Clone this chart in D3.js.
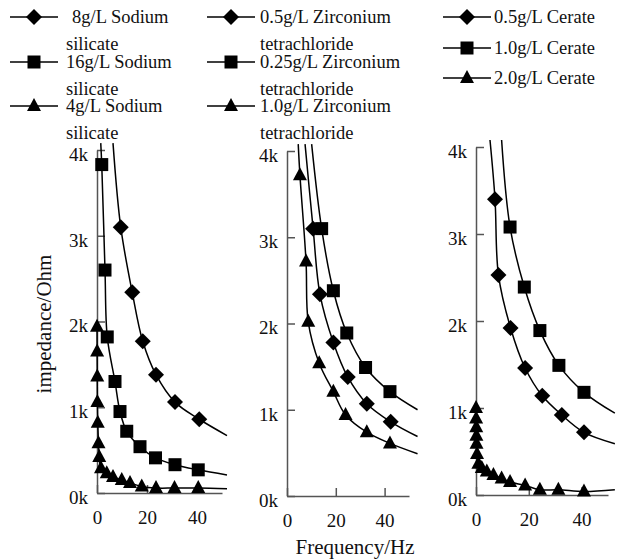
<!DOCTYPE html>
<html>
<head>
<meta charset="utf-8">
<script src="https://cdn.jsdelivr.net/npm/d3@7"></script>
<style>
  body { margin: 0; background: #fff; }
  svg text { font-family: "Liberation Serif", "Times New Roman", Times, "DejaVu Serif", serif !important; }
  .axis path, .axis line { stroke: #555; stroke-width: 1.5; }
  .axis text { font-size: 19px; fill: #111; }
  .curve { fill: none; stroke: #000; stroke-width: 1.5; }
  .legend text { font-size: 18.5px; fill: #111; }
</style>
</head>
<body>
<svg id="chart" width="620" height="560"></svg>
<script>
// frequency in Hz, impedance in Ohm
// series order in every panel: diamond, square, triangle

const sodiumLabels = [['8g/L Sodium', 'silicate'], ['16g/L Sodium', 'silicate'], ['4g/L Sodium', 'silicate']];
const sodiumFreq = [
  [9.5, 14.1, 18.3, 23.6, 31.2, 40.9],
  [1.9, 3.2, 4.1, 7.2, 9.2, 11.9, 17.2, 23.4, 31.2, 40.5],
  [0, 0.05, 0.1, 0.15, 0.3, 0.6, 0.9, 1.6, 3.9, 6.4, 9.9, 13.2, 17.9, 23.6, 31, 40.5]
];
const sodiumImp = [
  [3100, 2340, 1770, 1380, 1060, 860],
  [3830, 2600, 1820, 1300, 950, 720, 540, 410, 330, 270],
  [1940, 1650, 1360, 1060, 820, 580, 420, 290, 230, 187, 152, 117, 76, 58, 58, 58]
];
// where each fitted curve leaves the top of the plot / ends on the right
const sodiumStart = [[6.4, 4080], [1.5, 4080], null];
const sodiumEnd = [[52, 670], [52, 210], [52, 50]];

const zirconiumLabels = [['0.5g/L Zirconium', 'tetrachloride'], ['0.25g/L Zirconium', 'tetrachloride'], ['1.0g/L Zirconium', 'tetrachloride']];
const zirconiumFreq = [
  [10.7, 13.5, 19, 24.9, 32.7, 42.5],
  [14.2, 19, 24.5, 32.2, 42.2],
  [5.3, 7.8, 8.7, 13.2, 19, 24, 32.7, 42.2]
];
const zirconiumImp = [
  [3100, 2340, 1780, 1380, 1070, 860],
  [3100, 2380, 1890, 1490, 1210],
  [3720, 2720, 2020, 1540, 1210, 940, 740, 610]
];
const zirconiumStart = [[7.4, 4080], [10.1, 4080], [4.6, 4080]];
const zirconiumEnd = [[53.5, 690], [53.5, 1000], [53.5, 490]];

const cerateLabels = [['0.5g/L Cerate'], ['1.0g/L Cerate'], ['2.0g/L Cerate']];
const cerateFreq = [
  [7.2, 8.5, 13.1, 18.6, 25.1, 32.5, 40.9],
  [12.9, 18.3, 24.2, 31.4, 40.9],
  [0, 0.05, 0.1, 0.15, 0.2, 0.4, 0.9, 2.2, 4.1, 6.6, 9.7, 12.9, 18.6, 24.2, 31.2, 40.9]
];
const cerateImp = [
  [3400, 2530, 1920, 1460, 1140, 920, 720],
  [3080, 2390, 1890, 1490, 1180],
  [1000, 880, 780, 680, 590, 470, 360, 310, 270, 230, 190, 150, 110, 60, 60, 40]
];
const cerateStart = [[5.3, 4080], [9.7, 4080], null];
const cerateEnd = [[52.6, 590], [52.6, 940], [52.6, 60]];

const xTicks = [0, 20, 40];
const yTicks = [0, 1000, 2000, 3000, 4000];
const shapes = ['diamond', 'square', 'triangle'];

const FONT = '"Liberation Serif", "Times New Roman", Times, serif';
const svg = d3.select('#chart');

const panels = [
  { freq: sodiumFreq, imp: sodiumImp, start: sodiumStart, end: sodiumEnd, left: 97, right: 222, bottom: 493, top: 150 },
  { freq: zirconiumFreq, imp: zirconiumImp, start: zirconiumStart, end: zirconiumEnd, left: 287, right: 409, bottom: 496, top: 151 },
  { freq: cerateFreq, imp: cerateImp, start: cerateStart, end: cerateEnd, left: 476, right: 608, bottom: 495, top: 147 }
];

function symbolPath(type) {
  if (type === 'diamond') return 'M0,-8L8,0L0,8L-8,0Z';
  if (type === 'square') return 'M-6.5,-6.5h13v13h-13Z';
  return 'M0,-8L7,5L-7,5Z';
}

const line = d3.line()
  .x(d => d.x)
  .y(d => d.y)
  .curve(d3.curveCatmullRom.alpha(0.5));

panels.forEach(p => {
  let x = d3.scaleLinear().domain([0, 50]).range([p.left, p.right]);
  let y = d3.scaleLinear().domain([0, 4000]).range([p.bottom, p.top]);

  svg.append('g')
    .attr('class', 'axis')
    .attr('font-family', FONT)
    .attr('transform', 'translate(0,' + p.bottom + ')')
    .call(d3.axisBottom(x).tickValues(xTicks).tickSizeInner(-8).tickSizeOuter(0).tickPadding(18));

  svg.append('g')
    .attr('class', 'axis')
    .attr('font-family', FONT)
    .attr('transform', 'translate(' + p.left + ',0)')
    .call(d3.axisLeft(y).tickValues(yTicks).tickSizeInner(-8).tickSizeOuter(0).tickPadding(9)
      .tickFormat(d => (d / 1000) + 'k'))
    .selectAll('text').attr('dy', '0.55em');

  p.freq.forEach((fs, i) => {
    let pts = fs.map((f, j) => ({ f: f, v: p.imp[i][j] }));
    let path = pts.slice();
    if (p.start[i]) path.unshift({ f: p.start[i][0], v: p.start[i][1] });
    if (p.end[i]) path.push({ f: p.end[i][0], v: p.end[i][1] });

    svg.append('path')
      .attr('class', 'curve')
      .attr('d', line(path.map(d => ({ x: x(d.f), y: y(d.v) }))));

    svg.append('g').selectAll('path')
      .data(pts)
      .enter().append('path')
      .attr('d', symbolPath(shapes[i]))
      .attr('transform', d => 'translate(' + x(d.f) + ',' + y(d.v) + ')')
      .attr('fill', '#000');
  });
});

// axis titles
svg.append('text')
  .attr('x', 355).attr('y', 554)
  .attr('text-anchor', 'middle')
  .attr('font-family', FONT)
  .attr('font-size', 21)
  .attr('fill', '#111')
  .text('Frequency/Hz');

svg.append('text')
  .attr('transform', 'translate(51,324) rotate(-90)')
  .attr('text-anchor', 'middle')
  .attr('font-family', FONT)
  .attr('font-size', 21)
  .attr('fill', '#111')
  .text('impedance/Ohm');

// legends
const legendCols = [
  { labels: sodiumLabels, lineX: [10, 58], textX: 66, rows: [17, 62, 106] },
  { labels: zirconiumLabels, lineX: [207, 255], textX: 260, rows: [17, 62, 106] },
  { labels: cerateLabels, lineX: [443, 491], textX: 494, rows: [17, 48, 78] }
];

const legend = svg.append('g').attr('class', 'legend').attr('font-family', FONT);

legendCols.forEach(col => {
  col.labels.forEach((lab, i) => {
    let cy = col.rows[i];
    let g = legend.append('g');
    g.append('line')
      .attr('x1', col.lineX[0]).attr('x2', col.lineX[1])
      .attr('y1', cy).attr('y2', cy)
      .attr('stroke', '#000').attr('stroke-width', 1.5);
    g.append('path')
      .attr('d', symbolPath(shapes[i]))
      .attr('transform', 'translate(' + ((col.lineX[0] + col.lineX[1]) / 2) + ',' + cy + ')')
      .attr('fill', '#000');
    lab.forEach((t, k) => {
      g.append('text')
        .attr('x', col.textX + (k === 0 && i === 0 && col.labels === sodiumLabels ? 6 : 0))
        .attr('y', cy + 6 + k * 27)
        .text(t);
    });
  });
});
</script>
</body>
</html>
